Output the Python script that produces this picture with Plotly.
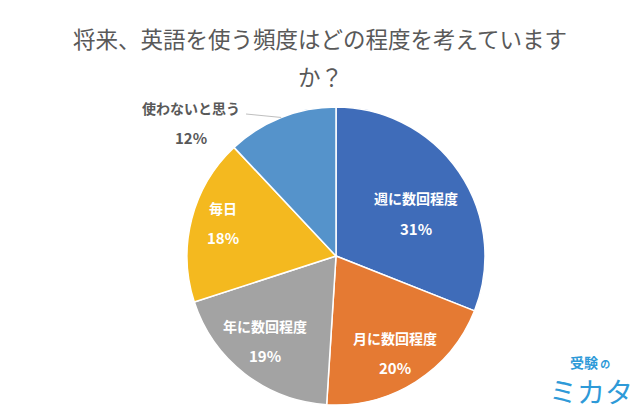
import math
import plotly.graph_objects as go

labels = ["週に数回程度", "月に数回程度", "年に数回程度", "毎日", "使わないと思う"]
values = [31, 20, 19, 18, 12]
colors = ["#3F6CB9", "#E57A33", "#A3A3A3", "#F4B91F", "#5593CB"]
text_colors = ["white", "white", "white", "white", "#595959"]
title_lines = ["将来、英語を使う頻度はどの程度を考えています", "か？"]

FONT = "Noto Sans CJK JP"
W, H = 640, 413
CX, CY, R = 336, 256, 149  # pie centre / radius in pixels (layout)

fig = go.Figure(go.Pie(
    labels=labels,
    values=values,
    sort=False,
    direction="clockwise",
    rotation=0,
    marker=dict(colors=colors, line=dict(color="white", width=1.5)),
    textinfo="none",
    hoverinfo="skip",
    showlegend=False,
    domain=dict(x=[(CX - R) / W, (CX + R) / W], y=[1 - (CY + R) / H, 1 - (CY - R) / H]),
))

# data labels placed along each slice's mid-angle (derived from values)
radial = [0.61, 0.76, 0.74, 0.79]
ang_off = [6, 1, 2, 2]
total = sum(values)
cum = 0
mids = []
for v in values:
    mids.append((cum + v / 2) / total * 2 * math.pi)
    cum += v

for i in range(4):
    a = mids[i] + math.radians(ang_off[i])
    px = CX + radial[i] * R * math.sin(a)
    py = CY - radial[i] * R * math.cos(a)
    fig.add_annotation(text=f"<b>{labels[i]}</b>", x=px / W, y=1 - (py - 15) / H,
                       xref="paper", yref="paper", xanchor="center", yanchor="middle",
                       showarrow=False, font=dict(family=FONT, size=14, color=text_colors[i]))
    fig.add_annotation(text=f"<b>{values[i]}%</b>", x=px / W, y=1 - (py + 15) / H,
                       xref="paper", yref="paper", xanchor="center", yanchor="middle",
                       showarrow=False, font=dict(family=FONT, size=15, color=text_colors[i]))

# outside label with leader line for the last slice
a = mids[4]
ex, ey = CX + R * math.sin(a), CY - R * math.cos(a)
lx, ly = 191, 108
fig.add_annotation(text=f"<b>{labels[4]}</b>", x=lx / W, y=1 - ly / H,
                   xref="paper", yref="paper", xanchor="center", yanchor="middle",
                   showarrow=False, font=dict(family=FONT, size=14, color=text_colors[4]))
fig.add_annotation(text=f"<b>{values[4]}%</b>", x=lx / W, y=1 - (ly + 29) / H,
                   xref="paper", yref="paper", xanchor="center", yanchor="middle",
                   showarrow=False, font=dict(family=FONT, size=15, color=text_colors[4]))
fig.add_shape(type="line", xref="paper", yref="paper",
              x0=246 / W, y0=1 - 114 / H, x1=ex / W, y1=1 - ey / H,
              line=dict(color="#BFBFBF", width=1))

fig.add_annotation(text=title_lines[0], x=0.5, y=1 - 38 / H, xref="paper", yref="paper",
                   xanchor="center", yanchor="middle",
                   showarrow=False, font=dict(family=FONT, size=22.5, color="#595959"))
fig.add_annotation(text=title_lines[1], x=0.5, y=1 - 76 / H, xref="paper", yref="paper",
                   xanchor="center", yanchor="middle",
                   showarrow=False, font=dict(family=FONT, size=22.5, color="#595959"))

# logo
fig.add_annotation(text="<b>受験</b><b><span style='font-size:10px'> の</span></b>",
                   x=590 / W, y=1 - 362 / H, xref="paper", yref="paper",
                   xanchor="center", yanchor="middle",
                   showarrow=False, font=dict(family=FONT, size=14, color="#2E9AD8"))
fig.add_annotation(text="ミカタ", x=591 / W, y=1 - 391 / H, xref="paper", yref="paper",
                   xanchor="center", yanchor="middle",
                   showarrow=False, font=dict(family=FONT, size=28, color="#2E9AD8"))

fig.update_layout(
    width=W, height=H,
    margin=dict(l=0, r=0, t=0, b=0),
    paper_bgcolor="white",
    plot_bgcolor="white",
)

fig.write_html("out.html")
